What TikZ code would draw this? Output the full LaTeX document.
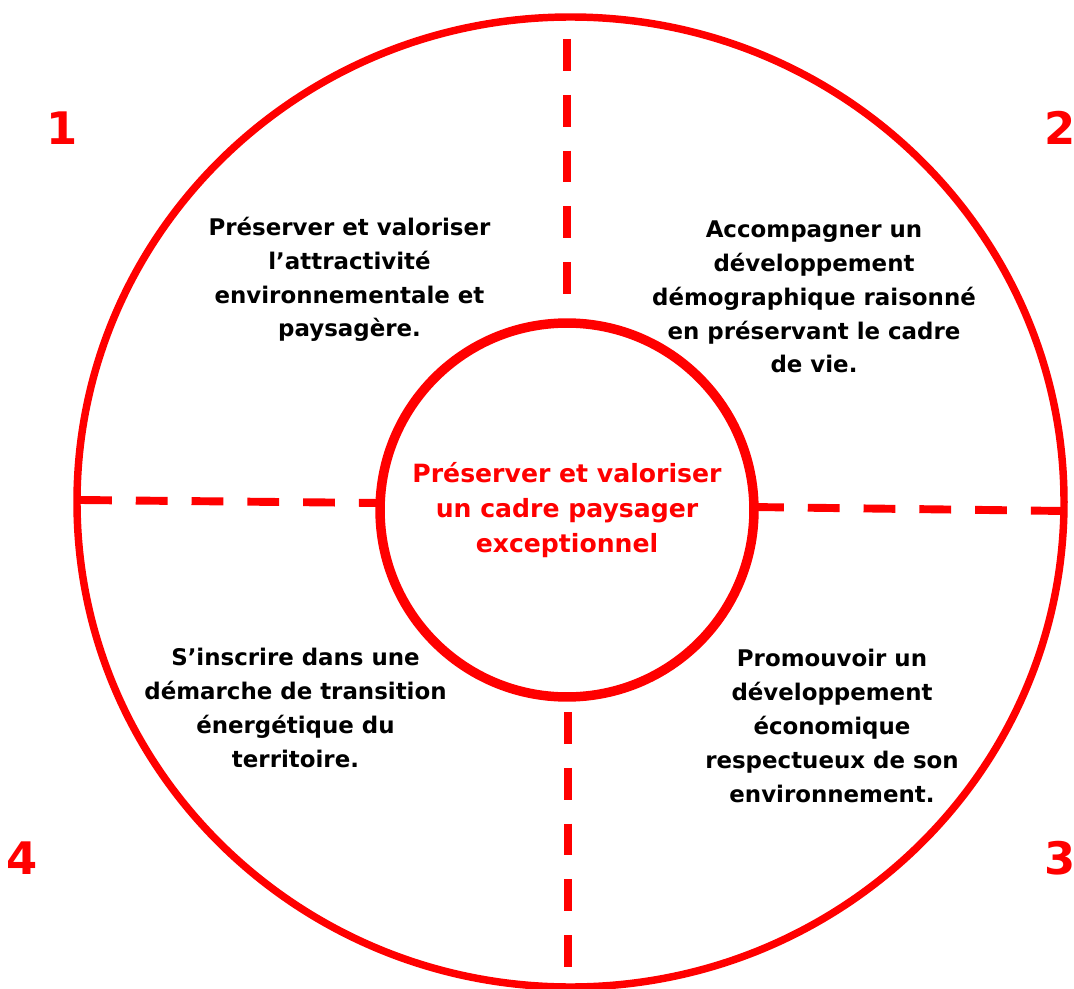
\documentclass[tikz,border=0pt]{standalone}
\usepackage{fontspec}
\setmainfont{DejaVu Sans}
\tikzset{
  rim/.style={draw=red, line width=4.25pt},
  spoke/.style={draw=red, line width=4.5pt, dash pattern=on 18.14pt off 13.6pt},
  goal/.style={align=center, inner sep=0pt, anchor=base,
    font=\bfseries\fontsize{13.04pt}{19.27pt}\selectfont},
  num/.style={text=red, inner sep=0pt, anchor=base,
    font=\bfseries\fontsize{25.5pt}{30pt}\selectfont}
}
\begin{document}
\begin{tikzpicture}[x=0.02cm, y=-0.02cm]
\useasboundingbox (0,0) rectangle (1074,989);
% outer ring
\draw[rim] (570.5,502) ellipse (493.5 and 485);
% centre
\node[circle, draw=red, line width=5.4pt, minimum size=7.48cm, inner sep=0pt,
      text=red, align=center, font=\bfseries\fontsize{14.3pt}{20.1pt}\selectfont]
  (core) at (567,510) {Préserver et valoriser\\un cadre paysager\\exceptionnel};
% dashed spokes (x,y) in pixels
\coordinate (topA) at (567,39);   \coordinate (topB) at (567,295);
\coordinate (botA) at (568,712);  \coordinate (botB) at (568,968);
\coordinate (lftA) at (80,500);   \coordinate (lftB) at (380,503);
\coordinate (rgtA) at (752,507);  \coordinate (rgtB) at (1064,511);
\draw[spoke] (topA) -- (topB);
\draw[spoke] (botA) -- (botB);
\draw[spoke] (lftA) -- (lftB);
\draw[spoke] (rgtA) -- (rgtB);
% the four goals, base = last line
\node[goal] (goal1) at (349.5,337) {Préserver et valoriser\\l’attractivité\\environnementale et\\paysagère.};
\node[goal] (goal2) at (814,373) {Accompagner un\\développement\\démographique raisonné\\en préservant le cadre\\de vie.};
\node[goal] (goal3) at (832,802) {Promouvoir un\\développement\\économique\\respectueux de son\\environnement.};
\node[goal] (goal4) at (295.5,767) {S’inscrire dans une\\démarche de transition\\énergétique du\\territoire.};
% quadrant numbers
\node[num] (num1) at (62,145) {1};
\node[num] (num2) at (1060,145) {2};
\node[num] (num3) at (1060,874) {3};
\node[num] (num4) at (22,874) {4};
\end{tikzpicture}
\end{document}
